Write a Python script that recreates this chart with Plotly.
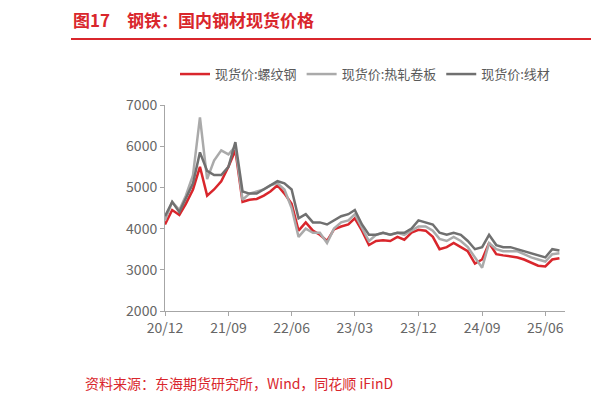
import plotly.graph_objects as go
import pandas as pd

dates = pd.date_range("2020-12-01", periods=57, freq="MS").strftime("%Y-%m-%d").tolist()
rebar = [4100,4450,4330,4600,4950,5500,4800,4950,5150,5500,5900,4650,4700,4720,4800,4900,5050,4850,4600,3950,
         4150,3950,3850,3700,3980,4050,4100,4250,3950,3600,3700,3720,3700,3800,3730,3900,3970,3950,3800,3500,
         3550,3650,3550,3450,3150,3250,3650,3380,3350,3320,3300,3250,3180,3100,3080,3250,3280]
hot = [4200,4650,4450,4800,5300,6700,5200,5650,5900,5800,6000,4700,4850,4900,4950,5050,5100,4950,4500,3800,
       4000,3900,3900,3650,4000,4150,4200,4350,4000,3700,3850,3900,3850,3900,3850,3950,4050,4050,3950,3750,
       3700,3800,3700,3550,3300,3050,3650,3500,3450,3450,3450,3380,3300,3250,3200,3380,3400]
wire = [4300,4650,4400,4750,5100,5850,5400,5300,5300,5500,6100,4900,4850,4850,4950,5050,5150,5100,4950,4250,
        4350,4150,4150,4100,4200,4300,4350,4450,4100,3850,3850,3900,3850,3900,3900,4000,4200,4150,4100,3900,
        3850,3900,3850,3700,3500,3550,3850,3600,3550,3550,3500,3450,3400,3350,3300,3500,3470]
tickvals = ["2020-12-01","2021-09-01","2022-06-01","2023-03-01","2023-12-01","2024-09-01","2025-06-01"]
ticktext = ["20/12","21/09","22/06","23/03","23/12","24/09","25/06"]

fig = go.Figure()
fig.add_trace(go.Scatter(x=dates, y=rebar, name="现货价:螺纹钢", mode="lines", line=dict(color="#d9262c", width=2.5)))
fig.add_trace(go.Scatter(x=dates, y=hot, name="现货价:热轧卷板", mode="lines", line=dict(color="#aaaaaa", width=2.5)))
fig.add_trace(go.Scatter(x=dates, y=wire, name="现货价:线材", mode="lines", line=dict(color="#707070", width=2.5)))

fig.update_layout(
    width=611, height=402, plot_bgcolor="white", paper_bgcolor="white",
    margin=dict(l=157, r=54, t=97, b=99),
    font=dict(family="Noto Sans CJK SC", color="#595959", size=13),
    legend=dict(orientation="h", x=0.5, xanchor="center", y=1.15, yanchor="middle",
                font=dict(size=13, color="#595959")),
    showlegend=True,
)
fig.update_xaxes(range=["2020-12-01","2025-08-25"], tickvals=tickvals, ticktext=ticktext,
                 showline=True, linecolor="#a6a6a6", showgrid=False, ticks="outside", ticklen=4,
                 tickcolor="#a6a6a6", tickfont=dict(size=14, color="#666666"))
fig.update_yaxes(range=[2000,7000], dtick=1000, showline=True, linecolor="#a6a6a6", showgrid=False,
                 ticks="outside", ticklen=4, tickcolor="#a6a6a6", tickfont=dict(size=14, color="#666666"),
                 zeroline=False)
fig.add_annotation(text="<b>图17　钢铁：国内钢材现货价格</b>", xref="paper", x=-0.235, yref="paper", y=1.0,
                   xanchor="left", yanchor="bottom", yshift=71, showarrow=False,
                   font=dict(size=17, color="#d9262c", family="Noto Sans CJK SC"))
fig.add_shape(type="line", xref="paper", yref="y domain", x0=-0.235, x1=1.065, y0=1.32, y1=1.32,
              line=dict(color="#d9262c", width=2))
fig.add_annotation(text="资料来源：东海期货研究所，Wind，同花顺 iFinD", xref="paper", yref="paper",
                   x=-0.205, y=0, xanchor="left", yanchor="top", yshift=-60, showarrow=False,
                   font=dict(size=14, color="#d9262c", family="Noto Sans CJK SC"))
fig.write_html("out.html")
